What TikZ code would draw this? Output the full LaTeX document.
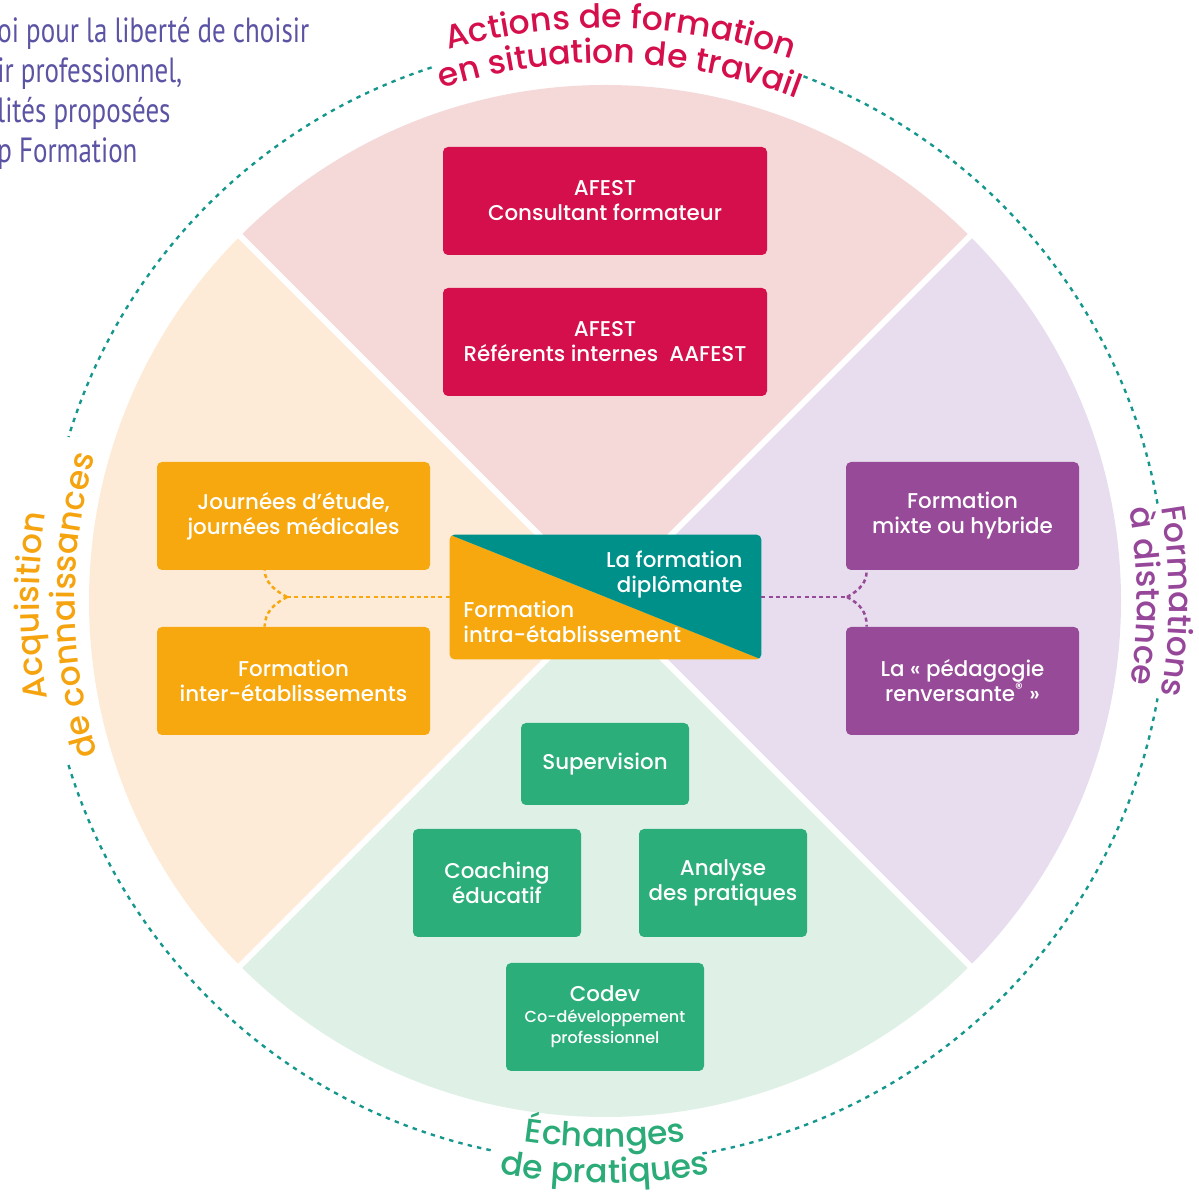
\documentclass[tikz,border=0pt]{standalone}
\usepackage{fontspec}
\setmainfont{Poppins}
\newfontfamily\pmed{Poppins Medium}
\newfontfamily\condf{PT Sans}[FakeStretch=0.77]
\usetikzlibrary{decorations.text}
\definecolor{crim}{HTML}{D40F4B}
\definecolor{orng}{HTML}{F6A80E}
\definecolor{purp}{HTML}{964A97}
\definecolor{grn}{HTML}{2BAE79}
\definecolor{tealc}{HTML}{00908A}
\definecolor{pinkbg}{HTML}{F5D9D9}
\definecolor{peachbg}{HTML}{FDEBD7}
\definecolor{lavbg}{HTML}{E8DDEE}
\definecolor{greenbg}{HTML}{DFF0E6}
\definecolor{dotc}{HTML}{16978D}
\definecolor{txtpurp}{HTML}{5B53A3}
\definecolor{lblorange}{HTML}{F5A30F}
\definecolor{lblpurple}{HTML}{97479A}
\definecolor{lblgreen}{HTML}{2AAB77}
\newcommand\lblfont{\pmed\fontsize{16.5}{19}\selectfont}
\tikzset{
  abox/.style={rounded corners=2.5pt, text=white, align=center, inner sep=0pt,
    font=\pmed\fontsize{10.7}{12.5}\selectfont},
  wbox/.style={abox, minimum height=54pt},
  dotarc/.style={dotc, line width=1.2pt, dash pattern=on 2.2pt off 2.6pt},
  dconn/.style={line width=1.25pt, dash pattern=on 2pt off 1.6pt},
  gap/.style={white, line width=3pt},
  toptext/.style={txtpurp, anchor=base west, inner sep=0pt, font=\condf\fontsize{17.5}{20}\selectfont}
}
\begin{document}
\begin{tikzpicture}[x=0.5pt,y=0.5pt]
\useasboundingbox (0,0) rectangle (1199,1194);
\coordinate (C) at (605,593);
% sectors
\fill[pinkbg] (C) -- ([shift={(C)}]45:516) arc[start angle=45,end angle=135,radius=516] -- cycle;
\fill[peachbg] (C) -- ([shift={(C)}]135:516) arc[start angle=135,end angle=225,radius=516] -- cycle;
\fill[greenbg] (C) -- ([shift={(C)}]225:516) arc[start angle=225,end angle=315,radius=516] -- cycle;
\fill[lavbg] (C) -- ([shift={(C)}]315:516) arc[start angle=315,end angle=405,radius=516] -- cycle;
\foreach \a in {45,135,225,315} \draw[gap] (C) -- ([shift={(C)}]\a:530);
% dotted outer circle
\draw[dotarc] ([shift={(C)}]10:561) arc[start angle=10,end angle=69.5,radius=561];
\draw[dotarc] ([shift={(C)}]108:561) arc[start angle=108,end angle=163,radius=561];
\draw[dotarc] ([shift={(C)}]197:561) arc[start angle=197,end angle=258.5,radius=561];
\draw[dotarc] ([shift={(C)}]280:561) arc[start angle=280,end angle=350,radius=561];
% curved labels
\path[decorate, decoration={text along path, text align=center, text={|\lblfont\color{crim}|Actions de formation}}]
  ([shift={(C)}]130:573) arc[start angle=130,end angle=46.8,radius=573];
\path[decorate, decoration={text along path, text align=center, text={|\lblfont\color{crim}|en situation de travail}}]
  ([shift={(C)}]135:538) arc[start angle=135,end angle=41.8,radius=538];
\path[decorate, decoration={text along path, text align=center, text={|\lblfont\color{lblorange}|Acquisition}}]
  ([shift={(C)}]205:566) arc[start angle=205,end angle=156,radius=566];
\path[decorate, decoration={text along path, text align=center, text={|\lblfont\color{lblorange}|de connaissances}}]
  ([shift={(C)}]212:530) arc[start angle=212,end angle=149,radius=530];
\path[decorate, decoration={text along path, text align=center, text={|\lblfont\color{lblpurple}|Formations}}]
  ([shift={(C)}]25:564) arc[start angle=25,end angle=-25,radius=564];
\path[decorate, decoration={text along path, text align=center, text={|\lblfont\color{lblpurple}|à distance}}]
  ([shift={(C)}]25:532) arc[start angle=25,end angle=-24,radius=532];
\path[decorate, decoration={text along path, text align=center, text={|\lblfont\color{lblgreen}|Échanges}}]
  ([shift={(C)}]250:546) arc[start angle=250,end angle=290,radius=546];
\path[decorate, decoration={text along path, text align=center, text={|\lblfont\color{lblgreen}|de pratiques}}]
  ([shift={(C)}]250:582) arc[start angle=250,end angle=290,radius=582];
% top-left text
\node[toptext] (t1) at (-3,1151) {oi pour la liberté de choisir};
\node[toptext] (t2) at (-3,1111) {ir professionnel,};
\node[toptext] (t3) at (-3,1071) {lités proposées};
\node[toptext] (t4) at (-3,1031) {p Formation};
% boxes
\node[wbox, fill=crim, minimum width=162pt] (afest1) at (605,993) {AFEST\\Consultant formateur};
\node[wbox, fill=crim, minimum width=162pt] (afest2) at (605,852) {AFEST\\Référents internes\ \ AAFEST};
\node[wbox, fill=orng, minimum width=136.5pt] (journees) at (293.5,678) {Journées d’étude,\\journées médicales};
\node[wbox, fill=orng, minimum width=136.5pt] (inter) at (293.5,513) {Formation\\inter-établissements};
\node[wbox, fill=purp, minimum width=116.5pt] (mixte) at (962.5,678) {Formation\\mixte ou hybride};
\node[wbox, fill=purp, minimum width=116.5pt] (peda) at (962.5,513) {La « pédagogie\\renversante\textsuperscript{®} »};
\node[abox, fill=grn, minimum width=84pt, minimum height=41pt] (superv) at (605,430) {Supervision};
\node[wbox, fill=grn, minimum width=84pt] (coach) at (497,311) {Coaching\\éducatif};
\node[wbox, fill=grn, minimum width=84pt] (analyse) at (723,311) {Analyse\\des pratiques};
\node[wbox, fill=grn, minimum width=99pt] (codev) at (605,177) {Codev\\[-2pt]{\fontsize{8}{10}\selectfont Co-développement}\\[-2pt]{\fontsize{8}{10}\selectfont professionnel}};
% center box
\node[minimum width=155.5pt, minimum height=62pt, inner sep=0pt] (ctr) at (605.5,597) {};
\begin{scope}
\clip[rounded corners=2.5pt] (ctr.south west) rectangle (ctr.north east);
\fill[orng] (ctr.north west) -- (ctr.south east) -- (ctr.south west) -- cycle;
\fill[tealc] (ctr.north west) -- (ctr.north east) -- (ctr.south east) -- cycle;
\end{scope}
\node[abox, anchor=east, align=right] (dipl) at (743,619) {La formation\\diplômante};
\node[abox, anchor=west, align=left] (intra) at (463,572) {Formation\\intra-établissement};
% connectors
\coordinate (bl) at (287,597);
\coordinate (br) at (847,597);
\coordinate (jl) at ([xshift=54pt]journees.south west);
\coordinate (il) at ([xshift=54pt]inter.north west);
\coordinate (mr) at ([xshift=10.5pt]mixte.south west);
\coordinate (pr) at ([xshift=10.5pt]peda.north west);
\draw[dconn, orng] (ctr.west) -- (bl);
\draw[dconn, orng] (bl) .. controls (274,604) and (265,612) .. (jl);
\draw[dconn, orng] (bl) .. controls (274,590) and (265,582) .. (il);
\draw[dconn, purp] (ctr.east) -- (br);
\draw[dconn, purp] (br) .. controls (860,604) and (867,612) .. (mr);
\draw[dconn, purp] (br) .. controls (860,590) and (867,582) .. (pr);
\end{tikzpicture}
\end{document}
